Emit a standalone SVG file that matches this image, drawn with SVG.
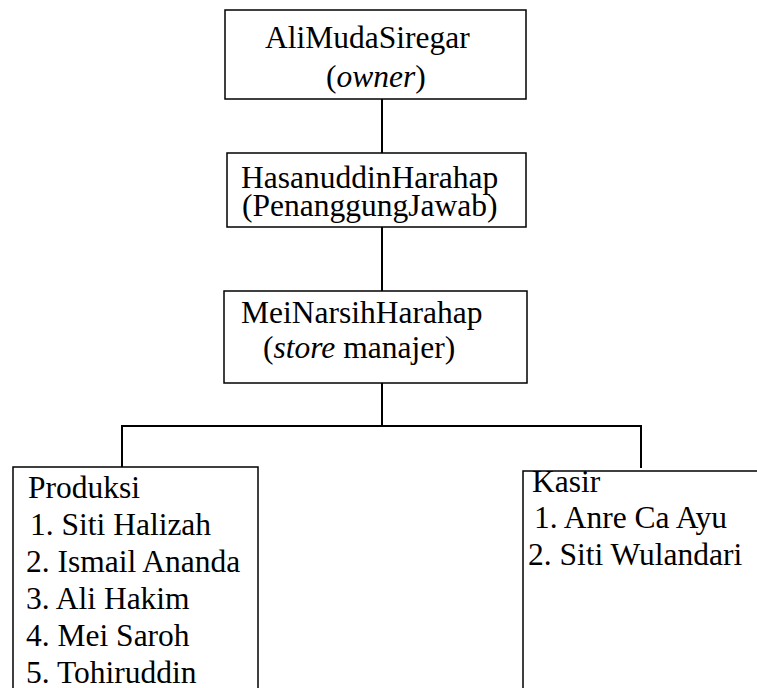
<svg xmlns="http://www.w3.org/2000/svg" width="757" height="688" viewBox="0 0 757 688">
<style>
.box{fill:#fff;stroke:#000;stroke-width:1.5}
.con{fill:none;stroke:#000;stroke-width:2}
text{font-family:"Liberation Serif","Times New Roman",serif;font-size:31.5px;fill:#000}
.it{font-style:italic}
</style>
<rect width="757" height="688" fill="#fff"/>
<g id="connectors">
<line class="con" x1="382" y1="99" x2="382" y2="153"/>
<line class="con" x1="382" y1="227" x2="382" y2="291"/>
<line class="con" x1="382" y1="383" x2="382" y2="426"/>
<polyline class="con" points="122,467 122,426 641,426 641,468"/>
</g>
<g id="owner">
<rect class="box" x="225" y="10" width="301" height="89"/>
<text x="265" y="48">AliMudaSiregar</text>
<text x="326" y="87">(<tspan class="it">owner</tspan>)</text>
</g>
<g id="penanggung-jawab">
<rect class="box" x="227" y="153" width="299" height="74"/>
<text x="241" y="188">HasanuddinHarahap</text>
<text x="242" y="216">(PenanggungJawab)</text>
</g>
<g id="store-manajer">
<rect class="box" x="224" y="291" width="303" height="92"/>
<text x="241" y="323">MeiNarsihHarahap</text>
<text x="263" y="358">(<tspan class="it">store</tspan> manajer)</text>
</g>
<g id="produksi">
<rect class="box" x="13" y="467" width="245" height="240"/>
<text x="28" y="498">Produksi</text>
<text x="30" y="535"> 1. Siti Halizah</text>
<text x="26" y="572">2. Ismail Ananda</text>
<text x="26" y="609">3. Ali Hakim</text>
<text x="26" y="646">4. Mei Saroh</text>
<text x="26" y="683">5. Tohiruddin</text>
</g>
<g id="kasir">
<rect class="box" x="523" y="471" width="250" height="240"/>
<text x="532" y="492">Kasir</text>
<text x="534" y="528">1. Anre Ca Ayu</text>
<text x="528" y="565">2. Siti Wulandari</text>
</g>
</svg>
